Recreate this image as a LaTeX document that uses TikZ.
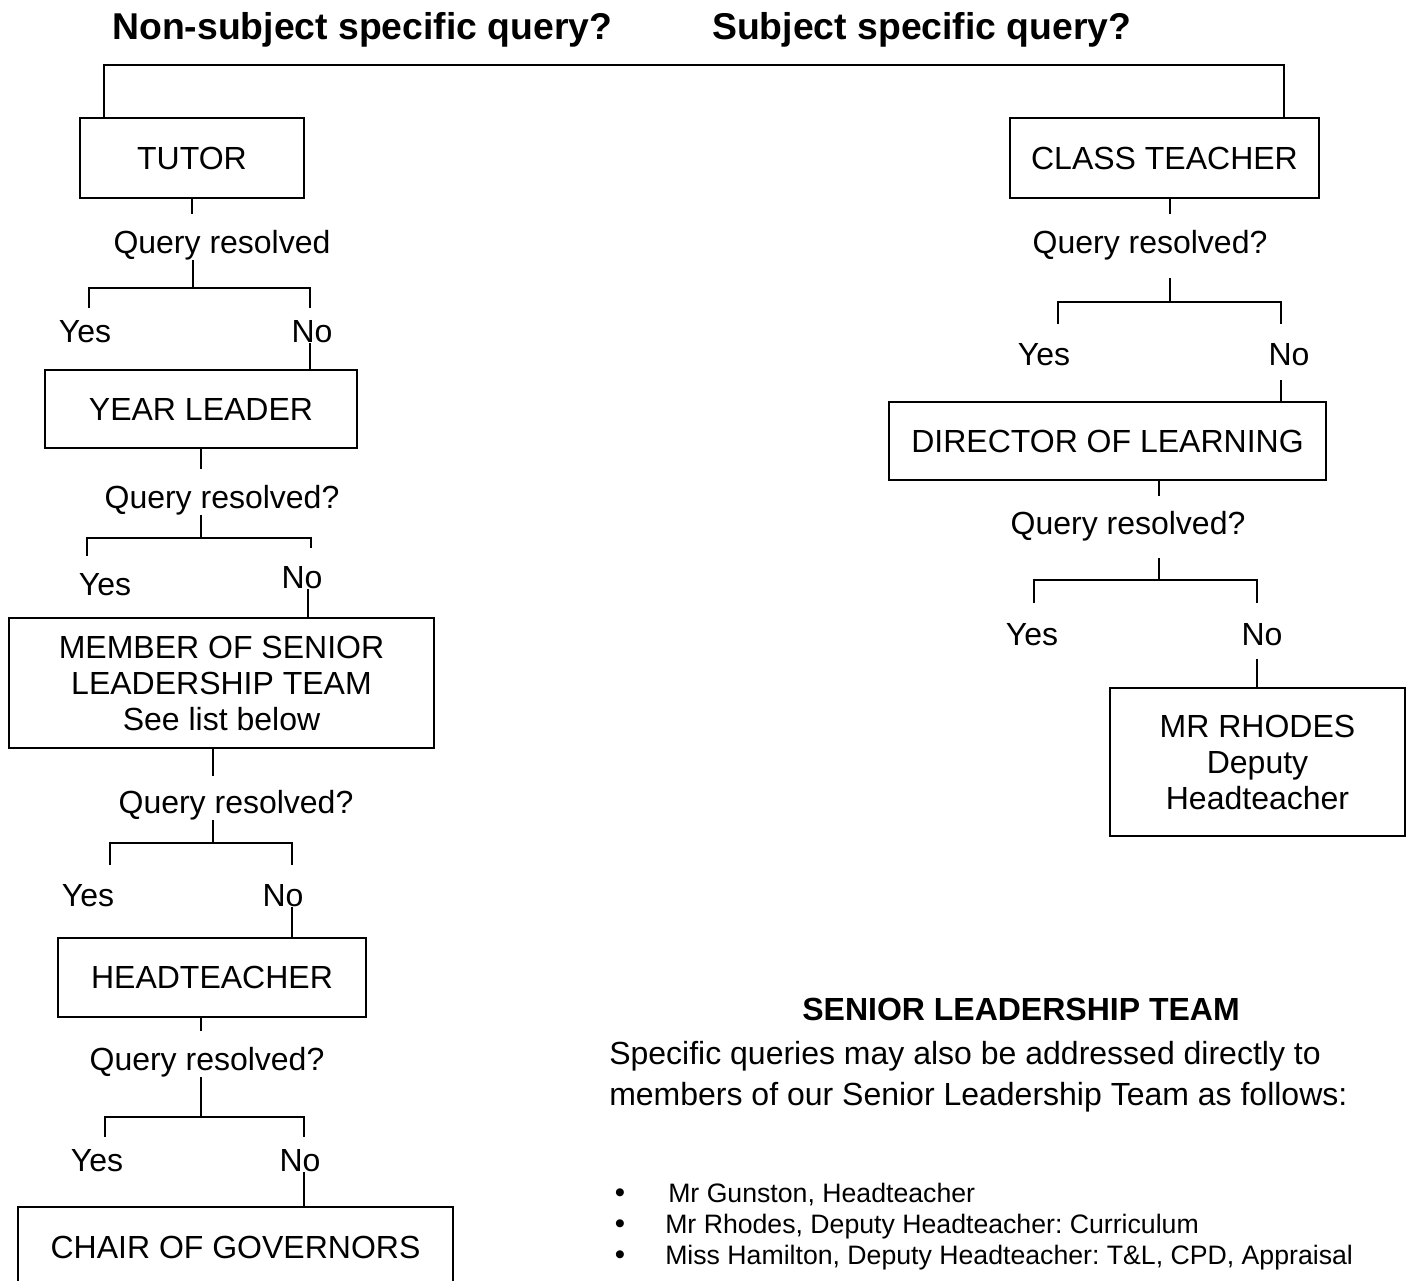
\documentclass[tikz,border=0pt]{standalone}
\usepackage{fontspec}
\setmainfont{Liberation Sans}
\usetikzlibrary{backgrounds}
\frenchspacing

\begin{document}
\begin{tikzpicture}[
  x=0.75pt, y=-0.75pt,
  every node/.style={font=\fontsize{24}{27}\selectfont, inner sep=0pt, align=center},
  box/.style={draw, line width=1.5pt},
  link/.style={line width=0.8pt},
]
%-------------------------------------------------------------
\newcommand{\fontHead}{\fontsize{28}{32}\selectfont\bfseries}
\newcommand{\fontTeam}{\fontsize{24}{27}\selectfont\bfseries}
\newcommand{\fontList}{\fontsize{20}{23}\selectfont}

\useasboundingbox (0,0) rectangle (1411,1281);

\node[font=\fontHead, anchor=base west] (nonsubj) at (112,40) {Non-subject specific query?};
\node[font=\fontHead, anchor=base west] (subj) at (712,40) {Subject specific query?};
\coordinate (topL) at (104,65);
\coordinate (topR) at (1284,65);
%============================================================
% non-subject route
\node[box, minimum width=168pt, minimum height=60pt] (tutor) at (192,158) {TUTOR};
\node (q1) at (222,245) {Query resolved};
\coordinate (fork1) at (193,288);
\coordinate (fork1l) at (89,288);
\coordinate (fork1r) at (310,288);
\node (yes1) at (85,332) {Yes};
\node (no1) at (312,332) {No};
%============================================================
\node[box, minimum width=234pt, minimum height=58.5pt] (yearl) at (201,409) {YEAR LEADER};
\node (q2) at (222,500) {Query resolved?};
\coordinate (fork2) at (201,538);
\coordinate (fork2l) at (87,538);
\coordinate (fork2r) at (311,538);
\node (yes2) at (105,585) {Yes};
\node (no2) at (302,578) {No};
%============================================================
\node[box, minimum width=318.75pt, minimum height=97.5pt] (slt) at (221.5,683)
  {MEMBER OF SENIOR\\LEADERSHIP TEAM\\See list below};
\node (q3) at (236,805) {Query resolved?};
\coordinate (fork3) at (213,843);
\coordinate (fork3l) at (110,843);
\coordinate (fork3r) at (292,843);
\node (yes3) at (88,896) {Yes};
\node (no3) at (283,896) {No};
%============================================================
\node[box, minimum width=231pt, minimum height=59.25pt] (head) at (212,977.5) {HEADTEACHER};
\node (q4) at (207,1062) {Query resolved?};
\coordinate (fork4) at (201,1117);
\coordinate (fork4l) at (105,1117);
\coordinate (fork4r) at (304,1117);
\node (yes4) at (97,1161) {Yes};
\node (no4) at (300,1161) {No};
%============================================================
\node[box, minimum width=326.25pt, minimum height=60pt] (chair) at (235.5,1247) {CHAIR OF GOVERNORS};
%============================================================
% subject route
\node[box, minimum width=231.75pt, minimum height=60pt] (classt) at (1164.5,158) {CLASS TEACHER};
\node (q5) at (1150,245) {Query resolved?};
\coordinate (fork5) at (1170,302);
\coordinate (fork5l) at (1058,302);
\coordinate (fork5r) at (1281,302);
\node (yes5) at (1044,355) {Yes};
\node (no5) at (1289,355) {No};
%============================================================
\node[box, minimum width=327.75pt, minimum height=58.5pt] (director) at (1107.5,441) {DIRECTOR OF LEARNING};
\node (q6) at (1128,526) {Query resolved?};
\coordinate (fork6) at (1159,580);
\coordinate (fork6l) at (1034,580);
\coordinate (fork6r) at (1257,580);
\node (yes6) at (1032,635) {Yes};
\node (no6) at (1262,635) {No};
%============================================================
\node[box, minimum width=221.25pt, minimum height=111pt] (rhodes) at (1257.5,762)
  {MR RHODES\\Deputy\\Headteacher};
%============================================================
% team list
\node[font=\fontTeam] (team) at (1021,1009) {SENIOR LEADERSHIP TEAM};
\node[anchor=base west] (para1) at (609,1064) {Specific queries may also be addressed directly to};
\node[anchor=base west] (para2) at (609,1105) {members of our Senior Leadership Team as follows:};
\node[font=\fontsize{22}{23}\selectfont, anchor=base] (dot1) at (620,1202) {•};
\node[font=\fontsize{22}{23}\selectfont, anchor=base] (dot2) at (620,1233) {•};
\node[font=\fontsize{22}{23}\selectfont, anchor=base] (dot3) at (620,1264) {•};
\node[font=\fontList, anchor=base west] (item1) at (668,1202) {Mr Gunston, Headteacher};
\node[font=\fontList, anchor=base west] (item2) at (665,1233) {Mr Rhodes, Deputy Headteacher: Curriculum};
\node[font=\fontList, anchor=base west] (item3) at (665,1264) {Miss Hamilton, Deputy Headteacher: T\&L, CPD, Appraisal};

\begin{pgfonlayer}{background}
  \draw[link] (tutor.north -| topL) -- (topL) -- (topR) -- (classt.north -| topR);

  \draw[link] (tutor.south) -- ++(0,15);
  \draw[link] (q1.south -| fork1) -- (fork1);
  \draw[link] (fork1l) ++(0,20) -- (fork1l) -- (fork1r) -- ++(0,20);
  \draw[link] (no1.south -| fork1r) -- (yearl.north -| fork1r);

  \draw[link] (yearl.south) -- ++(0,20);
  \draw[link] (q2.south -| fork2) -- (fork2);
  \draw[link] (fork2l) ++(0,18) -- (fork2l) -- (fork2r) -- ++(0,10);
  \draw[link] (no2.south -| 308,0) -- (slt.north -| 308,0);

  \draw[link] (slt.south -| fork3) -- ++(0,27);
  \draw[link] (q3.south -| fork3) -- (fork3);
  \draw[link] (fork3l) ++(0,22) -- (fork3l) -- (fork3r) -- ++(0,22);
  \draw[link] (no3.south -| fork3r) -- (head.north -| fork3r);

  \draw[link] (head.south -| fork4) -- ++(0,13);
  \draw[link] (q4.south -| fork4) -- (fork4);
  \draw[link] (fork4l) ++(0,20) -- (fork4l) -- (fork4r) -- ++(0,20);
  \draw[link] (no4.south -| fork4r) -- (chair.north -| fork4r);

  \draw[link] (classt.south -| fork5) -- ++(0,15);
  \draw[link] (fork5) -- ++(0,-24);
  \draw[link] (fork5l) ++(0,22) -- (fork5l) -- (fork5r) -- ++(0,22);
  \draw[link] (director.north -| fork5r) -- ++(0,-21);

  \draw[link] (director.south -| fork6) -- ++(0,15);
  \draw[link] (fork6) -- ++(0,-22);
  \draw[link] (fork6l) ++(0,23) -- (fork6l) -- (fork6r) -- ++(0,23);
  \draw[link] (rhodes.north -| fork6r) -- ++(0,-28);
\end{pgfonlayer}

\end{tikzpicture}
\end{document}
